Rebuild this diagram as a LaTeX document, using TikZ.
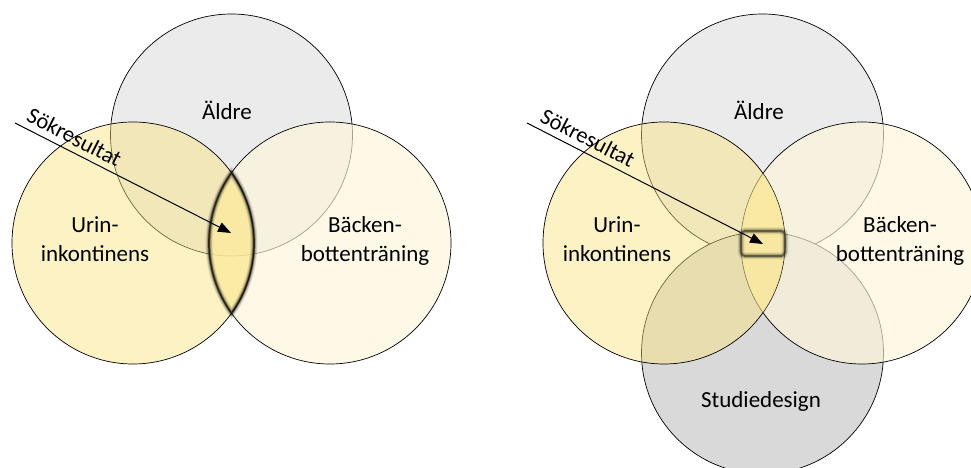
\documentclass[tikz,border=0pt]{standalone}
\usepackage{fontspec}
\setmainfont{Carlito}
\usetikzlibrary{arrows.meta}
\definecolor{cTop}{RGB}{235,235,235}
\definecolor{cBot}{RGB}{217,217,217}
\definecolor{cLeft}{RGB}{251,227,124}
\definecolor{cRight}{RGB}{254,246,217}
\definecolor{cLens}{RGB}{250,232,150}
\definecolor{cBoxLine}{RGB}{50,50,40}
\tikzset{
  circline/.style={draw=black, line width=0.7pt},
  lbl/.style={font=\fontsize{23}{28}\selectfont, anchor=base, inner sep=0pt},
  sok/.style={font=\fontsize{22.5}{26}\selectfont, sloped, anchor=south, inner sep=6pt, pos=#1},
  gA/.style={draw=#1, line width=7pt, draw opacity=0.10},
  gB/.style={draw=#1, line width=5pt, draw opacity=0.15},
  gC/.style={draw=#1, line width=3.2pt, draw opacity=0.30},
  gD/.style={draw=#1, line width=1.8pt, draw opacity=0.55},
  arr/.style={draw=black, line width=1pt, -{Triangle[length=13pt,width=10pt]}},
  lensA/.style={insert path={(L1) ++(-35.5:121) arc[start angle=-35.5,end angle=35.5,radius=121] arc[start angle=144.5,end angle=215.5,radius=121] -- cycle}},
  lensB/.style={insert path={(L2) ++(-35.1:121) arc[start angle=-35.1,end angle=35.1,radius=121] arc[start angle=144.9,end angle=215.1,radius=121] -- cycle}},
  boxB/.style={insert path={[rounded corners=4pt] (741,237) rectangle (785,212)}},
}
\begin{document}
\begin{tikzpicture}[x=1pt,y=1pt]
\useasboundingbox (0,0) rectangle (971,468);
\clip (0,0) rectangle (971,468);
% ---------- left diagram ----------
\coordinate (T1) at (231.5,333);
\coordinate (L1) at (133,225);
\coordinate (R1) at (330,225);
\fill[cTop] (T1) circle[radius=121];
\draw[circline] (T1) circle[radius=121];
\fill[cRight, fill opacity=0.65] (R1) circle[radius=121];
\draw[circline] (R1) circle[radius=121];
\fill[cLeft, fill opacity=0.45] (L1) circle[radius=121];
\draw[circline] (L1) circle[radius=121];
\fill[cLens, fill opacity=0.5, lensA];
\path[gA=black, lensA];
\path[gB=black, lensA];
\path[gC=black, lensA];
\path[gD=black, lensA];
\node[lbl] (aldreA) at (227,348) {Äldre};
\node[lbl] (urinA) at (95,235) {Urin-};
\node[lbl] (inkA) at (95,206) {inkontinens};
\node[lbl] (backA) at (365,235) {Bäcken-};
\node[lbl] (botA) at (365,206) {bottenträning};
\coordinate (sA) at (15,345);
\coordinate (eA) at (231,235);
\draw[arr] (sA) -- node[sok=0.245] (sokA) {Sökresultat} (eA);
% ---------- right diagram ----------
\coordinate (T2) at (762.5,333);
\coordinate (B2) at (762.5,115);
\coordinate (L2) at (664,225);
\coordinate (R2) at (862,225);
\fill[cTop] (T2) circle[radius=121];
\draw[circline] (T2) circle[radius=121];
\fill[cBot] (B2) circle[radius=121];
\draw[circline] (B2) circle[radius=121];
\fill[cRight, fill opacity=0.65] (R2) circle[radius=121];
\draw[circline] (R2) circle[radius=121];
\fill[cLeft, fill opacity=0.45] (L2) circle[radius=121];
\draw[circline] (L2) circle[radius=121];
\fill[cLens, fill opacity=0.5, lensB];
\path[gA=cBoxLine, boxB];
\path[gB=cBoxLine, boxB];
\path[gC=cBoxLine, boxB];
\path[gD=cBoxLine, boxB];
\node[lbl] (aldreB) at (759,348) {Äldre};
\node[lbl] (urinB) at (617,235) {Urin-};
\node[lbl] (inkB) at (617,206) {inkontinens};
\node[lbl] (backB) at (900,235) {Bäcken-};
\node[lbl] (botB) at (900,206) {bottenträning};
\node[lbl] (studB) at (761,60) {Studiedesign};
\coordinate (sB) at (527,345);
\coordinate (eB) at (763,224);
\draw[arr] (sB) -- node[sok=0.23] (sokB) {Sökresultat} (eB);
\end{tikzpicture}
\end{document}
